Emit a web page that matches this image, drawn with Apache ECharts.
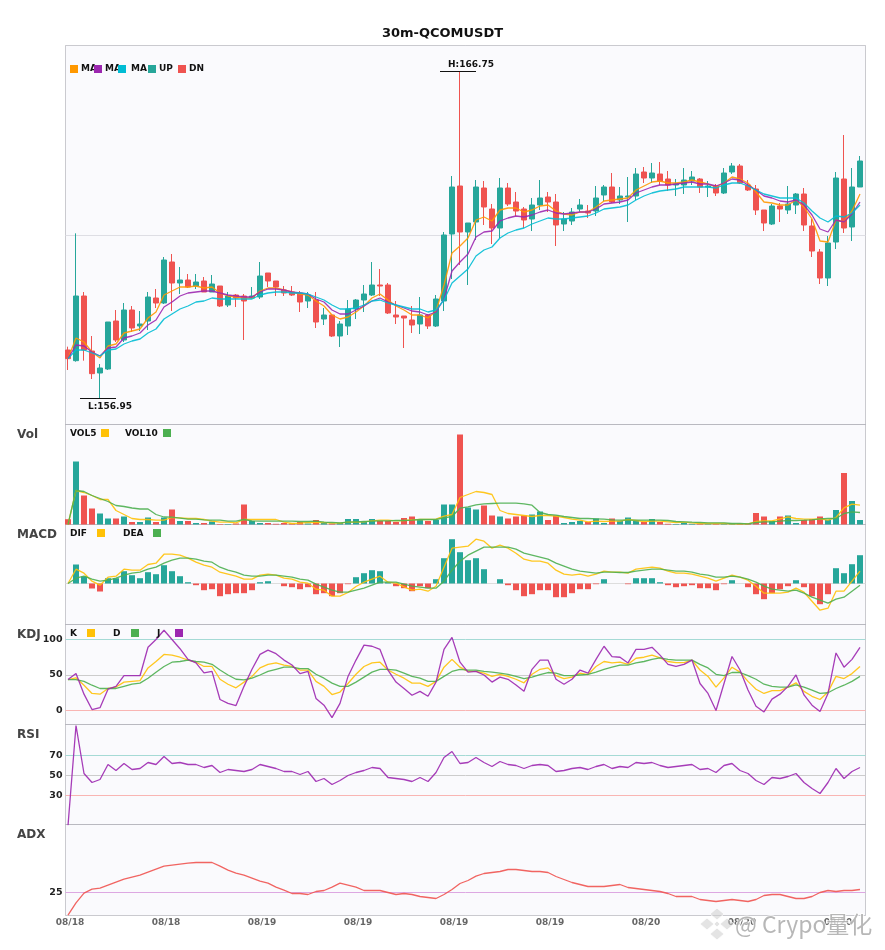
<!DOCTYPE html>
<html>
<head>
<meta charset="utf-8">
<script src="https://cdn.jsdelivr.net/npm/echarts@6/dist/echarts.min.js"></script>
<style>html,body{margin:0;padding:0;background:#fff}#c{width:885px;height:950px}</style>
</head>
<body>
<div id="c"></div>
<script>
const titleText = '30m-QCOMUSDT';
const tickIndex = [0,12,24,36,48,60,72,84,96];
const tickLabels = ['08/18','08/18','08/19','08/19','08/19','08/19','08/20','08/20','08/20'];

const opens = [158.39,158.07,160.01,158.36,157.70,157.82,159.26,158.69,159.59,159.11,
159.26,159.95,159.80,161.03,160.40,160.49,160.31,160.46,160.13,160.31,
159.74,160.04,160.01,159.95,159.98,160.70,160.46,160.19,160.13,160.10,
159.86,159.89,159.32,159.44,158.81,159.11,159.62,159.89,160.04,160.34,
160.34,159.44,159.41,159.29,159.17,159.44,159.11,159.86,161.87,163.31,
161.93,162.23,163.25,162.62,162.05,163.25,162.83,162.62,162.32,162.74,
162.98,162.83,162.17,162.26,162.62,162.56,162.56,163.04,163.28,162.89,
162.98,163.01,163.73,163.55,163.67,163.52,163.34,163.34,163.46,163.52,
163.28,163.31,163.10,163.73,163.91,163.34,163.22,162.59,162.17,162.71,
162.59,162.74,163.07,162.11,161.33,160.55,161.63,163.52,162.08,163.28];
const closes = [158.13,160.01,158.39,157.68,157.85,159.23,158.69,159.59,159.05,159.17,
159.98,159.80,161.09,160.40,160.49,160.28,160.43,160.13,160.37,159.71,
160.01,159.95,159.86,160.01,160.61,160.46,160.28,160.10,160.04,159.83,
160.04,159.23,159.44,158.81,159.17,159.62,159.89,160.07,160.34,160.31,
159.50,159.38,159.35,159.14,159.44,159.11,159.92,161.84,163.28,161.93,
162.20,163.28,162.68,162.05,163.25,162.77,162.56,162.29,162.74,162.95,
162.83,162.14,162.32,162.53,162.74,162.50,162.95,163.28,162.83,163.01,
163.01,163.67,163.55,163.70,163.46,163.34,163.37,163.49,163.58,163.28,
163.31,163.10,163.70,163.91,163.40,163.19,162.59,162.20,162.71,162.62,
162.77,163.07,162.14,161.36,160.55,161.60,163.55,162.05,163.28,164.06];
const lows = [157.79,158.04,158.07,157.52,156.95,157.79,158.63,158.63,158.93,158.96,
158.99,159.65,159.77,159.56,160.07,160.25,160.22,160.13,160.13,159.68,
159.68,159.68,158.69,159.92,159.92,160.28,160.01,160.01,160.01,159.53,
159.65,159.05,159.14,158.78,158.48,158.84,159.32,159.53,160.01,160.01,
159.47,159.17,158.45,158.90,158.87,159.02,159.08,159.56,160.52,160.94,
160.34,161.69,162.14,161.57,161.75,162.71,162.41,162.05,161.96,162.59,
162.53,161.51,161.96,162.14,162.53,162.35,162.41,162.86,162.80,162.77,
162.23,162.89,163.40,163.40,163.34,163.16,163.01,163.07,163.34,163.10,
162.98,163.01,163.07,163.67,163.37,163.16,162.44,161.96,162.14,162.23,
162.47,162.47,161.96,161.18,160.37,160.31,161.42,161.90,161.66,163.28];
const highs = [158.49,161.89,160.13,158.81,157.97,159.23,159.59,159.80,159.71,159.56,
160.13,160.22,161.18,161.27,160.88,160.67,160.67,160.58,160.64,160.31,
160.13,160.07,160.07,160.28,161.03,160.70,160.46,160.31,160.31,160.16,
160.13,160.13,159.65,159.44,159.26,159.89,159.92,160.34,161.03,160.82,
160.40,159.86,159.41,159.71,159.98,159.47,160.04,161.93,163.61,166.75,
162.20,163.49,163.46,162.77,163.55,163.40,163.13,162.68,162.95,163.49,
163.13,163.07,162.53,162.65,162.92,162.74,163.31,163.34,163.70,163.28,
163.58,163.85,163.88,164.00,164.03,163.76,163.52,163.85,163.76,163.55,
163.46,163.37,163.85,164.00,163.97,163.49,163.34,162.59,162.77,162.80,
163.31,163.10,163.25,162.32,161.42,161.81,163.73,164.84,163.85,164.21];

const maShort = [158.13,158.75,158.63,158.33,158.15,158.51,158.57,158.90,158.96,159.02,
159.35,159.53,160.04,160.16,160.28,160.28,160.31,160.25,160.28,160.10,
160.01,159.98,159.95,159.95,160.16,160.25,160.25,160.19,160.13,160.07,
160.04,159.86,159.71,159.44,159.32,159.38,159.53,159.71,159.95,160.07,
159.89,159.71,159.59,159.44,159.44,159.35,159.56,160.34,161.30,161.51,
161.75,162.29,162.38,162.26,162.59,162.65,162.65,162.53,162.59,162.71,
162.74,162.56,162.47,162.44,162.53,162.53,162.68,162.86,162.89,162.92,
162.95,163.19,163.31,163.43,163.46,163.40,163.40,163.43,163.49,163.43,
163.37,163.28,163.40,163.58,163.52,163.40,163.13,162.83,162.80,162.74,
162.74,162.89,162.68,162.32,161.66,161.63,162.29,162.23,162.56,163.07];
const maMid = [158.13,158.54,158.51,158.33,158.21,158.45,158.48,158.75,158.81,158.90,
159.14,159.29,159.68,159.83,160.01,160.10,160.13,160.16,160.16,160.10,
160.04,160.01,159.98,159.98,160.13,160.22,160.22,160.19,160.13,160.10,
160.07,159.92,159.83,159.59,159.47,159.47,159.59,159.71,159.86,159.95,
159.83,159.74,159.65,159.56,159.53,159.44,159.53,159.92,160.76,161.03,
161.27,161.78,161.93,161.96,162.26,162.35,162.41,162.38,162.44,162.53,
162.59,162.50,162.47,162.50,162.53,162.53,162.62,162.77,162.80,162.83,
162.89,163.10,163.19,163.28,163.34,163.34,163.37,163.40,163.43,163.37,
163.37,163.31,163.40,163.52,163.49,163.34,163.19,163.01,162.95,162.86,
162.83,162.89,162.74,162.44,162.02,161.93,162.29,162.23,162.47,162.83];
const maLong = [158.13,158.39,158.39,158.30,158.21,158.39,158.42,158.57,158.66,158.72,
158.90,159.02,159.32,159.47,159.62,159.71,159.83,159.86,159.95,159.92,
159.92,159.92,159.92,159.92,160.04,160.10,160.13,160.13,160.10,160.10,
160.07,159.98,159.89,159.74,159.62,159.62,159.65,159.74,159.86,159.89,
159.80,159.74,159.68,159.62,159.62,159.53,159.59,159.89,160.40,160.61,
160.82,161.21,161.39,161.48,161.75,161.90,161.99,162.05,162.17,162.26,
162.35,162.32,162.32,162.35,162.38,162.41,162.50,162.62,162.65,162.68,
162.74,162.89,163.01,163.10,163.16,163.19,163.22,163.28,163.28,163.28,
163.28,163.25,163.34,163.40,163.40,163.31,163.19,163.07,163.01,162.95,
162.95,162.95,162.80,162.56,162.35,162.23,162.41,162.38,162.50,162.74];
const extremeIndex = [49,4];
const extremePrice = [166.75,156.95];
const extremeText = ['H:166.75','L:156.95'];
const refPrice = 161.82;

const volume = [5.3,63,29,16,11,6,6,8,2.5,2.5,
7,2.5,7,15,3.5,3.5,1.5,1.5,3,0.5,
0.5,1,20,3.5,1.5,1.5,0.7,1.5,1,2.5,
1,4.5,1.5,1,1.5,5.5,5.5,2.5,5.5,3.5,
3.5,2.5,6.5,8,4.5,3.5,4.5,20,20,90,
17,15,19,9,8,6,8,9,10,13,
4.5,9,1.5,2.5,3.5,2.5,6,1.5,6,3.5,
7,3.5,2.5,5.5,2.5,0.7,0.5,1.5,0.7,0.7,
0.7,0.7,0.7,0.7,0.7,1,11.5,8,3.5,8,
9,1.5,4.5,5.5,8,4.5,14.5,51.5,23.5,4.5];
const vol5 = [0,34,32,29,25,25,14,10,6,5,
5,4.3,4.3,7,6.7,6,6,5,3.3,2.3,
2.3,1.7,5,5,5,5,5,2.3,1,1.3,
2,2,2,1.3,1.3,2.3,2.3,2.7,3.7,4.3,
4.3,3.7,4,4.7,5,5,5.3,8.3,10,27,
30,33,32,30,14,11,10,9,8,9,
9,8.3,7,5.3,4.3,2.7,3.3,3,3.3,3.3,
5,4,3,3.3,3.3,2.7,2,2.3,1.7,1,
1,1,1,0.7,0.7,0.7,3,3.7,3.7,5.7,
7.7,6,5.3,5.3,5.7,4.3,7,16.7,20.3,19.3];
const vol10 = [0,34,33,29,26,23,19,18,16.5,15.5,
15.5,10,7.5,7.3,6.3,5.3,5.3,4.7,4.3,4.3,
3.3,3.3,5,3.7,3.3,3.3,3.3,3.3,3.3,3,
3,3.3,2.3,2,1.7,2.3,2.7,3,3.3,3.7,
3.7,4,4,4.3,5,5,5,6.7,8,16.3,
17.7,19.7,20.7,21,21.3,21.3,21.3,20.7,19.3,12,
10,9.3,8,7,6,6,5.7,5.3,4.7,4.3,
4.3,4.3,4.3,4.3,4.3,4,3,2.7,2.3,2,
1.7,1.7,1.7,1,1,0.7,2,2.7,2.7,3.3,
4,4,4.3,4.7,5.7,6,6,11,12.7,12];

const macdHist = [0,19,7,-5,-8,5.3,5.3,12.3,8.3,5.3,
11.3,9.3,18.3,12.3,7.3,1.3,-1.7,-6.7,-5.7,-12.7,
-10.7,-9.7,-9.7,-6.7,1.3,2.3,0,-2.7,-3.7,-5.7,
-3.7,-10.7,-9.7,-12.7,-9.7,-0.7,6.3,10.3,13.3,12.3,
1.3,-2.7,-4.7,-7.7,-2.7,-4.7,4.3,25.3,44.3,31.3,
23.3,25.3,14.3,0,4.3,-1.7,-6.7,-12.7,-10.7,-6.7,
-6.7,-13.7,-13.7,-9.7,-5.7,-5.7,-0.7,4.3,0,0,
-0.7,5.3,5.3,5.3,1.3,-1.7,-3.7,-2.7,-1.7,-4.7,
-4.7,-6.7,-0.7,3.3,0,-3.7,-10.7,-15.7,-9.7,-5.7,
-2.7,3.3,-3.7,-12.7,-20.7,-10.7,15.3,10.3,19.3,28.3];
const dif = [0,14.3,10.3,2.3,-1.7,6.3,7.3,14.3,13.3,13.3,
19,20.3,29.3,29.3,28.3,25.3,21.3,18.3,16.3,11.3,
9.3,7.3,4.3,4.3,8.3,9.3,8.3,5.3,4.3,1.3,
0.3,-5.7,-6.7,-12.7,-12.7,-9,-3,1.3,4.3,7.3,
1.3,0.3,-3.3,-6.7,-5.7,-7.7,-2.7,16.3,35.3,36.3,
37.3,44.3,42.3,35.3,38.3,35.3,30.3,24.3,22.3,22.3,
20.3,13.3,9.3,8.3,9.3,7.3,9.3,12.3,11.3,11.3,
10.3,14.3,15.3,16.3,15.3,12.3,10.3,10.3,9.3,7.3,
5.3,2.3,5.3,8.3,6.3,3.3,-2.7,-9.7,-9.7,-9.7,
-8.7,-4.7,-8.7,-17.7,-26.7,-24.7,-7.7,-7.7,2.3,12.3];
const dea = [0,5.3,7.3,4.3,2.3,3.3,5.3,8.3,10.3,11.3,
14.3,16.3,20.3,23.3,25.3,25.3,24.3,22.3,21.3,16.3,
13.3,11.3,8.3,7.3,7.3,8.3,8.3,7.3,6.3,4.3,
3.3,-0.7,-3.7,-6.7,-8.7,-8.7,-6.7,-4.7,-1.7,1.3,
1.3,1.3,-0.7,-2.7,-3.7,-4.7,-4.7,2.3,13.3,22.3,
28.3,32.3,36.3,36.3,36.3,36.3,34.3,30.3,28.3,26.3,
24.3,20.3,17.3,14.3,12.3,11.3,10.3,11.3,11.3,11,
11,12.3,13.3,14.3,14.3,13.3,12.3,12.3,11.3,9.3,
8.3,6.3,6.3,7.3,6.3,4.3,1.3,-2.7,-5.7,-6.7,
-7.7,-6.7,-9.7,-13.7,-16.7,-19.7,-15.7,-13.7,-7.7,-1.7];

const kLine = [43.6,46,35.6,24,23,31,33,40,41,42,
60,69,79,78,75,71,68,62,62,44,
37,32,40,48,60,65,67,64,62,57,
57,41,34,22.5,26,38,51,62,67,68,
57,51,45.5,38.5,38.5,34,41,61,72,61,
55,55,52.5,48,51,48,44,39,51,58,
60,49,45,47,52.5,50.6,62,69,67,68,
65,73.6,75,78,74,69,67.5,67.5,71,57,
48,33,46,61,54,41,30,24,28,28,
33,39,27,20,15.5,26,48,45,52,62];
const dLine = [43.6,43.6,41,35.6,31,31,31,34,37,38.5,
45.5,54,62,68,69,71,69,68,65,57,
50,44,43,45.5,50,55,58,61,61,59,
59,51,45.5,38.5,34,34,40,47,54,58,
58,57,52.5,48,45.5,41,41,48,55,58,
57,57,55,54,52.5,51,48,45,47,50.6,
53.5,52.5,49,49,50,51,54,58,61,64,
64,67,69,72,74,72,71,71,71,65,
60,51,49,53.5,53.5,49,44,37,34,33,
33,36,33,28.6,24,25,31,35.6,41,48];
const jLine = [43.6,52,23,1.4,4,30,34,49,49,49,
89,100,113,100,87,72,67,53,55,15.5,
10,7,34,58,79,85,80,71,64,52,
55,17,7.5,-10,10,48,71,92,90.5,86,
57,40,31,21.5,27,20,40,86,103,68,
54,55,50,40,47,44,36,27,58,71,
71,44,37,44,57,52.5,72,90.5,76,75,
67,86,86,89,78,65,62,65,71,38,
24,0,38,76,57,29,6,-2,16,23,
34,50,22,7.5,-1.5,24,81,61,72,89];
const rsiLine = [0,100,52,43,46,61,55,62,56,57,
63,61,69,62,63,61,61,58,60,53,
56,55,54,56,61,59,57,54,54,51,
54,44,47,41,45,50,53,55,58,57,
48,47,46,44,48,44,53,68,74,62,
63,68,63,59,64,61,60,57,60,61,
60,54,55,57,58,56,59,61,57,59,
58,63,62,63,60,58,59,60,61,56,
57,53,60,62,55,52,45,41,48,47,
49,52,43,37,32,43,57,47,54,58];
const adxLine = [13.7,19.8,24.7,26.7,27.2,28.7,30.2,31.7,32.7,33.7,
35.2,36.7,38.2,38.7,39.2,39.7,40,40,40,38.2,
36.2,34.7,33.7,32.2,30.7,29.7,27.7,26.2,24.5,24.5,
24,25.5,26,27.7,29.7,28.7,27.7,26,26,26,
25,24,24.5,24,23,22.5,22,24,26.5,29.5,
31,33.2,34.5,35,35.5,36.5,36.5,36,35.5,35.5,
35,33,31.5,30,29,28,28,28,28.5,29,
27.5,27,26.5,26,25.5,24.5,23,23,23,21.5,
21,20.5,21,21.5,21,20.5,21.5,23.5,24,24,
23,22,22,23,25,26,25.5,26,26,26.5];

const kdjTicks = [0,50,100];
const rsiTicks = [30,50,70];
const adxTicks = [25];
const panelNames = ['Vol','MACD','KDJ','RSI','ADX'];

const UP='#26A69A', DN='#EF5350', C_ORANGE='#FF9800', C_PURPLE='#9C27B0', C_CYAN='#00BCD4', C_YEL='#FFC107', C_GRN='#4CAF50';
const HI='#A5DAD5', MID='#CCCCCC', LOW='#F9B5B3';
const FONT='"DejaVu Sans"';

const tops=[45.5,424.5,524.5,624.5,724.5,824.5];
const heights=[379,100,100,100,100,91];
const ranges=[[156.155,167.525],[0,100],[-41,59],[-19.7,121.1],[1,101],[13.5,59]];
const TOTAL=opens.length;
const X_MIN=-0.3125, X_MAX=99.6875;

const grids=tops.map((t,i)=>({left:65.5,width:800,top:t,height:heights[i],show:true,backgroundColor:'#FAFAFD',borderColor:'rgba(115,115,125,0.36)',borderWidth:1}));
const xAxes=tops.map((t,i)=>({type:'value',gridIndex:i,min:X_MIN,max:X_MAX,
  axisLine:{show:false},axisTick:{show:false},splitLine:{show:false},
  axisLabel: i===5 ? {show:true,customValues:tickIndex,formatter:v=>tickLabels[tickIndex.indexOf(v)],
     color:'#666',fontWeight:'bold',fontSize:9,fontFamily:FONT,margin:3,padding:[0,0,0,4]} : {show:false}}));
const customTicks=[null,null,null,kdjTicks,rsiTicks,adxTicks];
const yAxes=tops.map((t,i)=>({type:'value',gridIndex:i,min:ranges[i][0],max:ranges[i][1],scale:true,
  axisLine:{show:false},axisTick:{show:false},splitLine:{show:false},
  axisLabel: customTicks[i] ? {show:true,customValues:customTicks[i],color:'#222',fontWeight:'bold',fontSize:9.5,fontFamily:FONT,margin:3} : {show:false}}));

const pairs=a=>a.map((v,i)=>[i,v]);
function line(name,data,color,g,extra){
  return Object.assign({type:'line',name,data:pairs(data),xAxisIndex:g,yAxisIndex:g,showSymbol:false,symbol:'none',
    lineStyle:{color,width:1.3,opacity:0.9},itemStyle:{color},z:4,silent:true,animation:false,clip:true},extra||{});
}
function hlines(list){
  return {silent:true,symbol:'none',animation:false,z:1,label:{show:false},
    data:list.map(([v,c])=>({yAxis:v,lineStyle:{color:c,width:1,type:'solid'}}))};
}
const series=[
  {type:'candlestick',name:'K',xAxisIndex:0,yAxisIndex:0,barWidth:5,animation:false,silent:true,z:3,
   encode:{x:0,y:[1,2,3,4]},
   data:opens.map((o,i)=>[i,o,closes[i],lows[i],highs[i]]),
   itemStyle:{color:UP,color0:DN,borderColor:UP,borderColor0:DN,borderWidth:1},
   markLine:hlines([[refPrice,'#DEDEE4']])},
  line('MA short',maShort,C_ORANGE,0),
  line('MA mid',maMid,C_PURPLE,0),
  line('MA long',maLong,C_CYAN,0),
  {type:'custom',name:'extremes',xAxisIndex:0,yAxisIndex:0,silent:true,animation:false,z:6,clip:false,
   encode:{x:0,y:1},
   data:extremeIndex.map((x,i)=>[x,extremePrice[i],i]),
   renderItem(p,api){
     const c=api.coord([api.value(0),api.value(1)]);
     const y=Math.round(c[1])+0.5, high=api.value(2)===0;
     return {type:'group',children:[
       {type:'line',shape:{x1:c[0]-20,y1:y,x2:c[0]+16,y2:y},style:{stroke:'#111',lineWidth:1}},
       {type:'text',style:{x:c[0]+(high?11:10),y:high?y-6.5:y+8.5,text:extremeText[api.value(2)],align:'center',verticalAlign:'middle',
         fill:'#111',font:'bold 9px '+FONT}}
     ]};
   }},
  {type:'bar',name:'Volume',xAxisIndex:1,yAxisIndex:1,barWidth:6,animation:false,silent:true,z:2,
   data:volume.map((v,i)=>({value:[i,v],itemStyle:{color:closes[i]>=opens[i]?UP:DN}}))},
  line('VOL5',vol5,C_YEL,1),
  line('VOL10',vol10,C_GRN,1),
  {type:'bar',name:'MACD',xAxisIndex:2,yAxisIndex:2,barWidth:6,animation:false,silent:true,z:2,
   data:macdHist.map((v,i)=>({value:[i,v],itemStyle:{color:v>=0?UP:DN}})),
   markLine:hlines([[0,'#DDDDDD']])},
  line('DIF',dif,C_YEL,2),
  line('DEA',dea,C_GRN,2),
  line('K',kLine,C_YEL,3,{markLine:hlines([[100,HI],[50,MID],[0,LOW]])}),
  line('D',dLine,C_GRN,3),
  line('J',jLine,C_PURPLE,3),
  line('RSI',rsiLine,C_PURPLE,4,{markLine:hlines([[70,HI],[50,MID],[30,LOW]])}),
  line('ADX',adxLine,'#EF5350',5,{markLine:hlines([[25,'#DDA8E2']])})
];

/* legends, panel names and the watermark */
const g=[];
const txt=(x,y,text,font,fill,align)=>g.push({type:'text',z:50,silent:true,x,y,style:{text,font,fill,textAlign:align||'left',textVerticalAlign:'middle'}});
const sq=(x,y,fill)=>g.push({type:'rect',z:51,silent:true,shape:{x,y,width:8,height:8},style:{fill}});
const LF='bold 9px '+FONT;
txt(442.5,34,titleText,'bold 13px '+FONT,'#111','center');
[['MA',81,70,C_ORANGE],['MA',105,94,C_PURPLE],['MA',131,118,C_CYAN],['UP',159,148,UP],['DN',189,178,DN]].forEach(([t,tx,sx,c])=>{txt(tx,69,t,LF,'#111');sq(sx,65,c);});
[['VOL5',70,101,C_YEL],['VOL10',125,163,C_GRN]].forEach(([t,tx,sx,c])=>{txt(tx,434,t,LF,'#111');sq(sx,429,c);});
[['DIF',70,97,C_YEL],['DEA',123,153,C_GRN]].forEach(([t,tx,sx,c])=>{txt(tx,534,t,LF,'#111');sq(sx,529,c);});
[['K',70,87,C_YEL],['D',113,131,C_GRN],['J',157,175,C_PURPLE]].forEach(([t,tx,sx,c])=>{txt(tx,634,t,LF,'#111');sq(sx,629,c);});
panelNames.forEach((n,i)=>txt(17,[435,535,635,735,835][i],n,'bold 12px '+FONT,'#444'));
[[717,914],[707,924],[727,924],[717,934],[717,924]].forEach(([cx,cy],i)=>g.push({type:'polygon',z:60,silent:true,
  shape:{points:[[cx,cy-(i==4?3:6)],[cx+(i==4?3:7),cy],[cx,cy+(i==4?3:6)],[cx-(i==4?3:7),cy]]},
  style:{fill:'rgba(205,205,205,0.55)',stroke:'rgba(255,255,255,0.8)',lineWidth:1}}));
g.push({type:'text',z:60,silent:true,x:735,y:924,style:{text:'@ Crypo量化',font:'23px "Noto Sans CJK SC"',fill:'rgba(170,170,170,0.85)',stroke:'rgba(255,255,255,0.7)',lineWidth:2,textVerticalAlign:'middle'}});

const chart=echarts.init(document.getElementById('c'),null,{renderer:'canvas'});
chart.setOption({animation:false,backgroundColor:'#fff',grid:grids,xAxis:xAxes,yAxis:yAxes,series,graphic:{elements:g}});
</script>
</body>
</html>
